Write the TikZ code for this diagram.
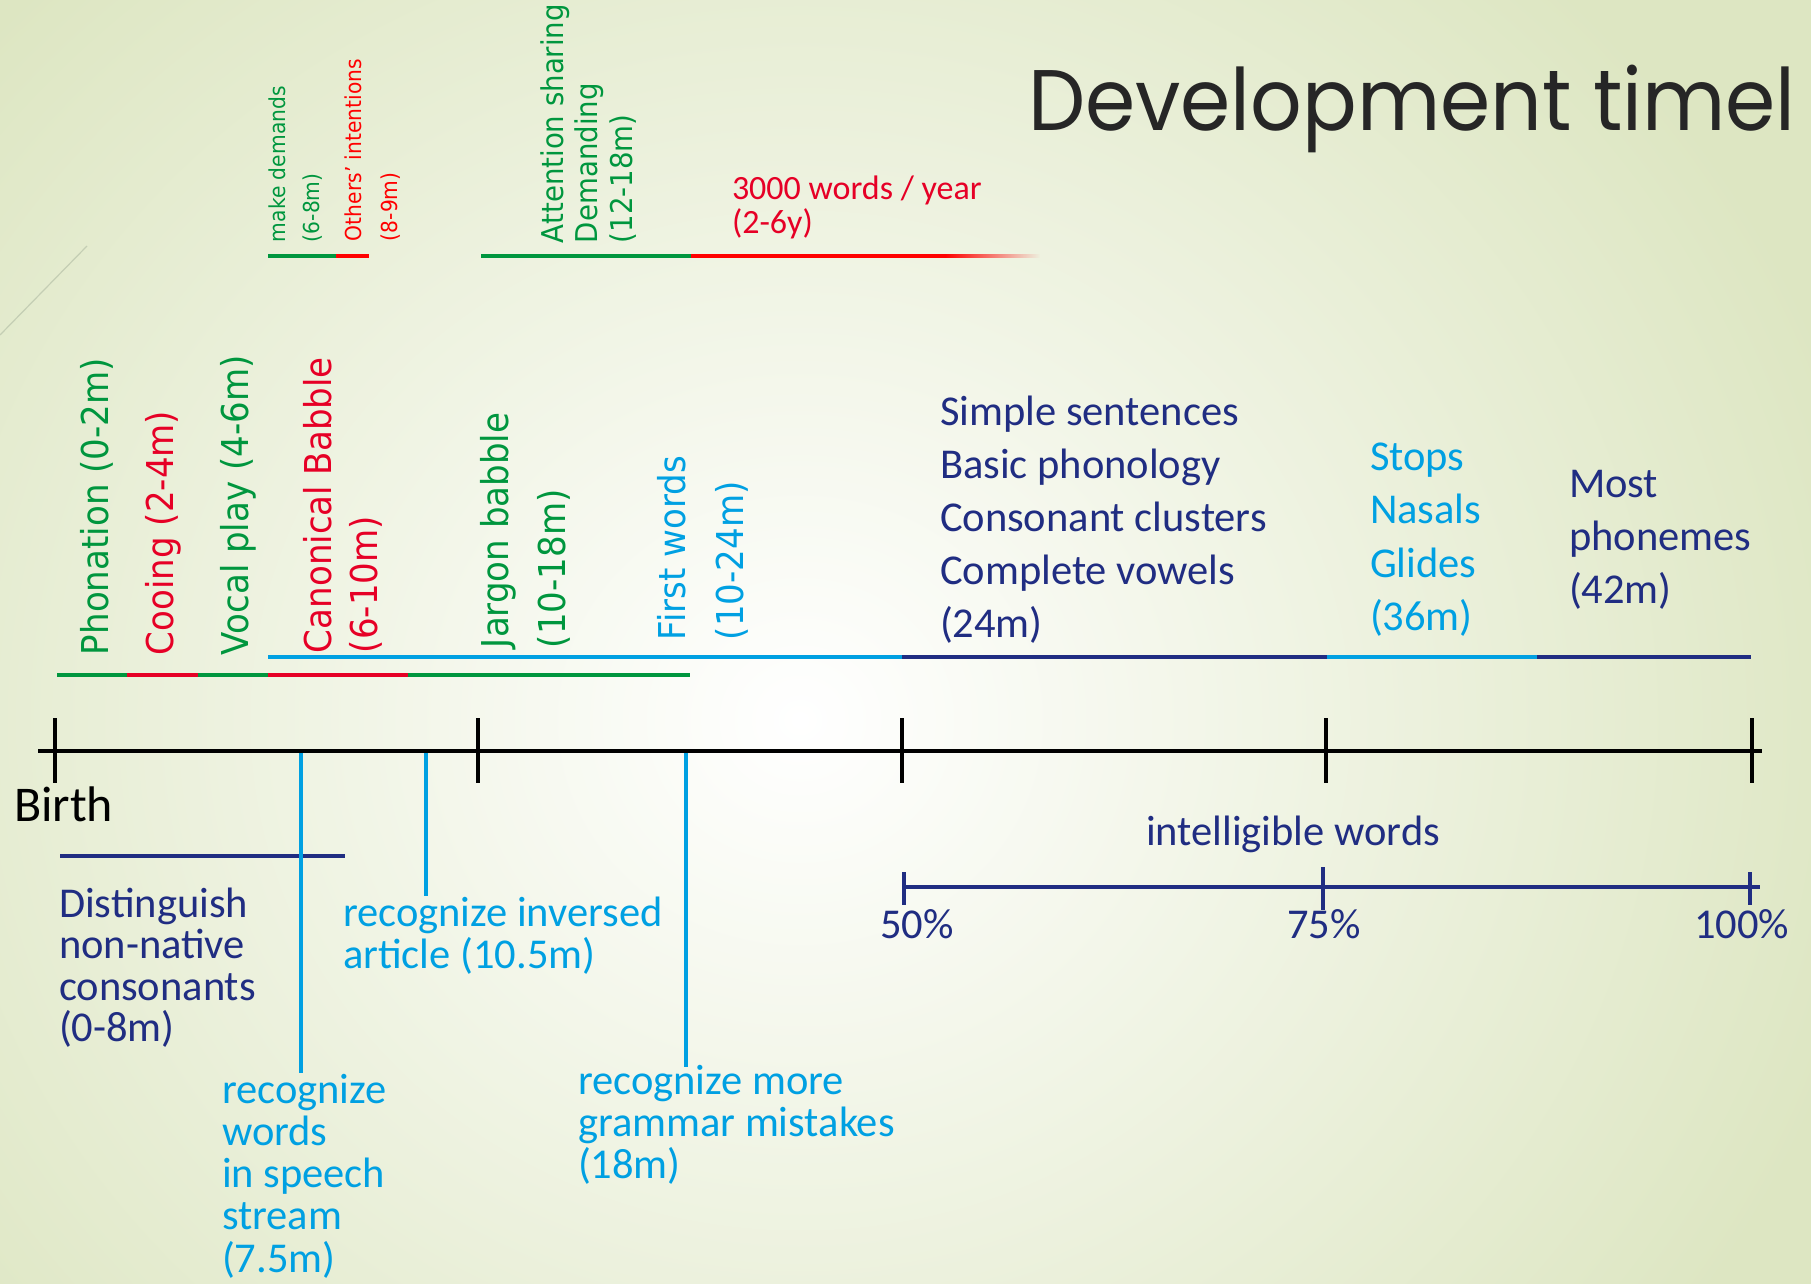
\documentclass[tikz,border=0pt]{standalone}
\usepackage{fontspec}
\setmainfont{Carlito}
\newfontfamily\tahfont[FakeStretch=0.92]{DejaVu Sans}
\newfontfamily\titlefont[FakeStretch=0.94]{Poppins}
\usetikzlibrary{fadings}
\definecolor{bggreen}{RGB}{221,230,194}
\definecolor{tgreen}{RGB}{0,150,62}
\definecolor{tred}{RGB}{230,0,38}
\definecolor{pred}{RGB}{255,0,0}
\definecolor{lblue}{RGB}{0,160,226}
\definecolor{navy}{RGB}{32,45,130}
\definecolor{titlegray}{RGB}{38,38,38}
\definecolor{decor}{RGB}{196,206,180}
\newcommand\stk[2]{\vtop{\baselineskip=#1pt\lineskiplimit=-\maxdimen\lineskip=0pt #2}}
\tikzset{
  every node/.style={inner sep=0pt, outer sep=0pt},
  rotbig/.style={rotate=90, anchor=base west, font=\tahfont\fontsize{37}{37}\selectfont},
  rotsmall/.style={rotate=90, anchor=base west, font=\tahfont\fontsize{22}{22}\selectfont},
  rotmid/.style={rotate=90, anchor=base west, font=\tahfont\fontsize{30}{30}\selectfont},
  lbl/.style={anchor=base west, font=\fontsize{42.5}{42.5}\selectfont},
  bar/.style={line width=4.5pt},
  axisline/.style={line width=4pt, black},
  tickmark/.style={line width=3.5pt, black},
  navytick/.style={line width=3.5pt, navy},
  pointer/.style={line width=3.5pt, lblue},
}
\begin{document}
\begin{tikzpicture}[x=1pt,y=-1pt]
\useasboundingbox (0,0) rectangle (1811,1284);
\clip (0,0) rectangle (1811,1284);
% background
\shade[inner color=white, outer color=bggreen] (-300,-300) rectangle (1900,1740);
\draw[decor, line width=1.2pt] (0,335) -- (87,246);

% title
\node[anchor=base west, font=\titlefont\fontsize{86}{86}\selectfont, text=titlegray] (title) at (1028,131) {Development timel};

% ---- top band: communication ----
\draw[bar, tgreen] (268,256) -- (336,256);
\draw[bar, pred] (336,256) -- (369,256);
\draw[bar, tgreen] (481,256) -- (691,256);
\draw[bar, pred] (691,256) -- (945,256);
\fill[pred, path fading=east] (945,253.75) rectangle (1040,258.25);

\node[rotsmall, text=tgreen] (demands) at (285,242) {\stk{34}{\hbox{make demands}\hbox{(6-8m)}}};
\node[rotsmall, text=pred] (intentions) at (361,241) {\stk{36}{\hbox{Others’ intentions}\hbox{(8-9m)}}};
\node[rotmid, text=tgreen] (attention) at (563,243) {\stk{34.5}{\hbox{Attention sharing}\hbox{Demanding}\hbox{(12-18m)}}};
\node[anchor=base west, font=\fontsize{34}{34}\selectfont, text=tred] (words3000) at (732,200) {\stk{34}{\hbox{3000 words / year}\hbox{(2-6y)}}};

% ---- middle band: sound development ----
\draw[bar, tgreen] (57,675) -- (127,675);
\draw[bar, tred] (127,675) -- (198,675);
\draw[bar, tgreen] (198,675) -- (268,675);
\draw[bar, tred] (268,675) -- (408,675);
\draw[bar, tgreen] (408,675) -- (690,675);

\draw[bar, lblue] (268,657) -- (902,657);
\draw[bar, navy] (902,657) -- (1327,657);
\draw[bar, lblue] (1327,657) -- (1537,657);
\draw[bar, navy] (1537,657) -- (1751,657);

\node[rotbig, text=tgreen] (phonation) at (108,655) {Phonation (0-2m)};
\node[rotbig, text=tred] (cooing) at (173,655) {Cooing (2-4m)};
\node[rotbig, text=tgreen] (vocal) at (248,655) {Vocal play (4-6m)};
\node[rotbig, text=tred] (canonical) at (331,653) {\stk{46}{\hbox{Canonical Babble}\hbox{(6-10m)}}};
\node[rotbig, text=tgreen] (jargon) at (508,648) {\stk{57}{\hbox{Jargon babble}\hbox{(10-18m)}}};
\node[rotbig, text=lblue] (firstwords) at (685,640) {\stk{58}{\hbox{First words}\hbox{(10-24m)}}};

\node[lbl, text=navy] (sentences) at (940,425) {\stk{53}{\hbox{Simple sentences}\hbox{Basic phonology}\hbox{Consonant clusters}\hbox{Complete vowels}\hbox{(24m)}}};
\node[lbl, text=lblue] (stops) at (1370,470) {\stk{53.5}{\hbox{Stops}\hbox{Nasals}\hbox{Glides}\hbox{(36m)}}};
\node[lbl, text=navy] (phonemes) at (1569,497) {\stk{53}{\hbox{Most}\hbox{phonemes}\hbox{(42m)}}};

% ---- main axis ----
\coordinate (axL) at (38,751);
\coordinate (axR) at (1762,751);
\draw[axisline] (axL) -- (axR);
\foreach \tx in {55,478,902,1326,1752}
  \draw[tickmark] (\tx,718) -- (\tx,783);
\node[anchor=base west, font=\fontsize{50}{50}\selectfont, text=black] (birth) at (14,821) {Birth};

% ---- bottom: perception ----
\draw[bar, navy] (60,856) -- (345,856);
\node[lbl, text=navy] (distinguish) at (59,917) {\stk{41.5}{\hbox{Distinguish}\hbox{non-native}\hbox{consonants}\hbox{(0-8m)}}};

\node[lbl, text=lblue] (recwords) at (222,1103) {\stk{42.3}{\hbox{recognize}\hbox{words}\hbox{in speech}\hbox{stream}\hbox{(7.5m)}}};
\node[lbl, text=lblue] (recarticle) at (343,926) {\stk{42.5}{\hbox{recognize inversed}\hbox{article (10.5m)}}};
\node[lbl, text=lblue] (recgrammar) at (578,1094) {\stk{42}{\hbox{recognize more}\hbox{grammar mistakes}\hbox{(18m)}}};

\coordinate (pw1) at (301,753);
\coordinate (pw2) at (301,1073);
\coordinate (pa1) at (426,753);
\coordinate (pa2) at (426,896);
\coordinate (pg1) at (686,753);
\coordinate (pg2) at (686,1067);
\draw[pointer] (pw1) -- (pw2);
\draw[pointer] (pa1) -- (pa2);
\draw[pointer] (pg1) -- (pg2);

% ---- intelligible words scale ----
\node[lbl, text=navy] (intelligible) at (1146,845) {intelligible words};
\coordinate (sL) at (904,887);
\coordinate (sR) at (1760,887);
\draw[bar, navy, line width=4pt] (sL) -- (sR);
\draw[navytick] (904,872) -- (904,905);
\draw[navytick] (1323,867) -- (1323,910);
\draw[navytick] (1750,872) -- (1750,905);
\node[lbl, text=navy] (p50) at (880,938) {50\%};
\node[lbl, text=navy] (p75) at (1287,938) {75\%};
\node[lbl, text=navy] (p100) at (1694,938) {100\%};
\end{tikzpicture}
\end{document}
